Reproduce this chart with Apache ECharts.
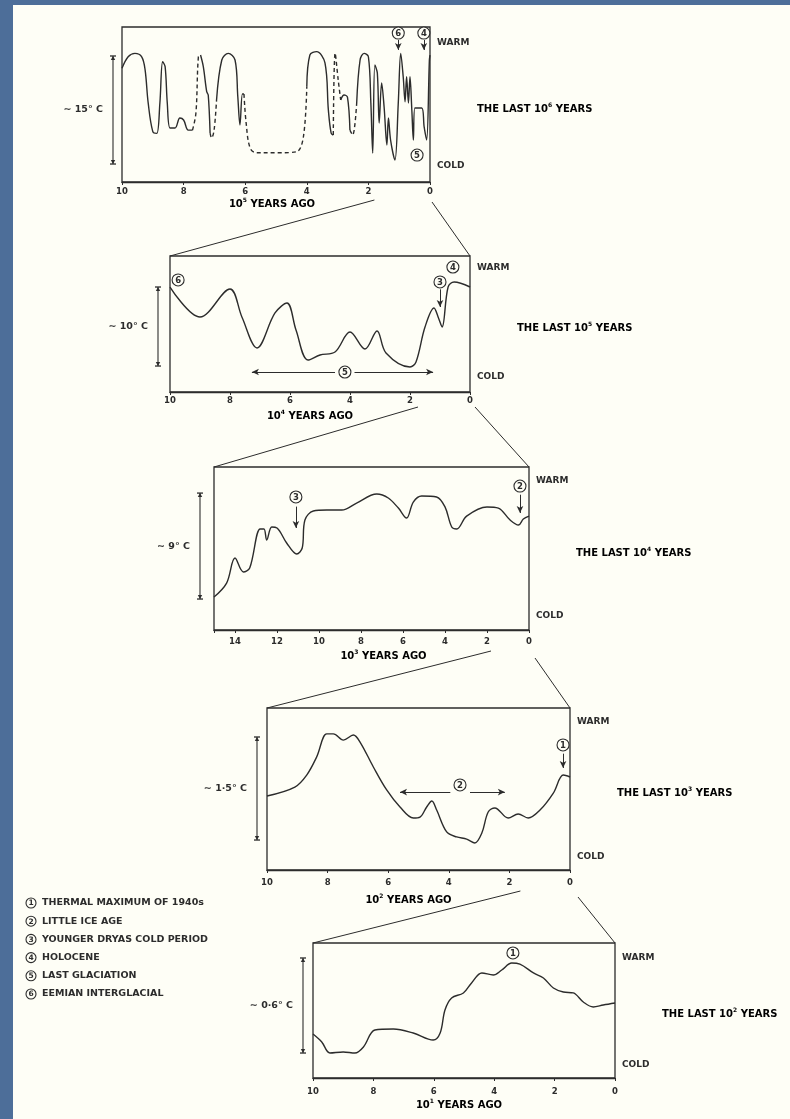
<!DOCTYPE html>
<html><head><meta charset="utf-8">
<script src="https://cdn.jsdelivr.net/npm/echarts/dist/echarts.min.js"></script>
<style>html,body{margin:0;padding:0;background:#4d6e99}#c{width:790px;height:1119px}</style>
</head><body><div id="c"></div>
<script>
// ---------------- DATA (x = time units ago, y = relative temperature index 0..100) ----------------
// Panel 1: last 10^6 years (x in 10^5 years). Solid and dashed segments.
const P1_SOLID_A = [[10,73.4],[9.8,80.8],[9.58,83.0],[9.36,80.8],[9.25,72.3],[9.15,51.0],[9.0,32.5],[8.87,31.4],[8.77,51.0],[8.68,77.6],[8.6,74.4],[8.53,51.0],[8.44,34.8],[8.28,34.8],[8.12,41.3],[8.0,40.0],[7.85,33.5],[7.71,33.5]];
const P1_DASH_B = [[7.71,33.5],[7.6,44.5],[7.52,80.8],[7.45,81.9]];
const P1_SOLID_C = [[7.45,81.9],[7.36,74.4],[7.25,58.3],[7.2,56.1],[7.14,31.6]];
const P1_DASH_D = [[7.14,31.6],[7.09,28.4],[7.01,33.5],[6.93,52.9]];
const P1_SOLID_E = [[6.93,52.9],[6.76,78.7],[6.55,83.0],[6.33,78.7],[6.24,55.0],[6.17,36.8],[6.09,56.8],[6.04,56.8]];
const P1_DASH_F = [[6.04,56.8],[5.97,38.1],[5.84,21.9],[5.63,18.9],[4.87,18.9],[4.33,19.5],[4.11,29.2],[4.0,61.5]];
const P1_SOLID_G = [[4.0,61.5],[3.9,81.9],[3.68,84.1],[3.41,76.8],[3.3,46.5],[3.21,31.6],[3.14,30.3]];
const P1_DASH_H = [[3.14,30.3],[3.08,83.2],[2.98,65.8],[2.9,52.9]];
const P1_SOLID_I = [[2.9,52.9],[2.79,56.1],[2.68,54.8],[2.6,33.5]];
const P1_DASH_J = [[2.6,33.5],[2.51,30.3],[2.38,51.0]];
const P1_SOLID_K = [[2.38,51.0],[2.27,78.7],[2.14,83.0],[2.0,80.8],[1.92,51.0],[1.86,18.7],[1.79,75.5],[1.71,70.3],[1.65,38.1],[1.57,63.9],[1.49,48.4],[1.4,23.9],[1.35,41.3],[1.28,27.1],[1.14,14.2],[1.03,51.0],[0.95,83.0],[0.87,67.9],[0.81,51.8],[0.76,67.9],[0.7,51.0],[0.65,67.9],[0.59,46.5],[0.54,27.1],[0.49,47.7],[0.27,47.7],[0.19,35.5],[0.11,27.1],[0.02,78.7],[0,81.9]];
// Panel 2: last 10^5 years (x in 10^4 years)
const P2_CURVE = [[10,77.2],[9.0,55.1],[8.0,75.7],[7.6,55.0],[7.1,32.4],[6.5,58.1],[6.1,65.4],[5.8,45.6],[5.4,23.5],[5.0,27.2],[4.5,29.4],[4.0,44.1],[3.5,31.6],[3.1,44.9],[2.8,28.7],[2.0,18.4],[1.8,22.1],[1.5,47.8],[1.2,61.8],[1.05,54.4],[0.93,47.8],[0.73,77.2],[0.53,80.9],[0,77.2]];
// Panel 3: last 10^4 years (x in 10^3 years)
const P3_CURVE = [[15,20.2],[14.4,28.8],[14.0,44.2],[13.6,35.6],[13.3,38.0],[12.8,62.0],[12.62,62.0],[12.49,55.2],[12.25,63.2],[12.0,62.6],[11.54,53.4],[11.06,46.6],[10.8,50.3],[10.67,67.5],[10.27,73.0],[9.63,73.6],[8.92,73.6],[8.21,77.9],[7.25,83.4],[6.7,81.0],[6.22,74.8],[5.83,68.7],[5.51,78.5],[5.11,82.2],[4.4,81.6],[4.0,75.5],[3.68,63.2],[3.44,62.0],[2.97,69.9],[2.0,75.5],[1.46,74.8],[0.9,67.5],[0.5,64.4],[0.27,68.1],[0,69.9]];
// Panel 4: last 10^3 years (x in 10^2 years)
const P4_CURVE = [[10,45.7],[9.08,51.2],[8.69,58.6],[8.36,69.8],[8.03,84.0],[7.81,84.0],[7.48,80.2],[7.15,83.3],[6.93,79.0],[6.49,63.6],[6.05,49.4],[5.61,38.9],[5.17,32.1],[4.95,32.7],[4.73,38.9],[4.56,42.6],[4.4,37.0],[4.07,23.5],[3.74,20.4],[3.41,19.1],[3.14,16.7],[2.91,22.8],[2.7,35.8],[2.48,38.3],[2.04,32.1],[1.71,34.6],[1.38,32.1],[0.99,37.0],[0.55,47.5],[0.22,58.6],[0,57.4]];
// Panel 5: last 10^2 years (x in 10^1 years)
const P5_CURVE = [[10,32.6],[9.71,26.7],[9.44,18.5],[9.0,19.3],[8.61,18.5],[8.33,23.0],[7.95,35.6],[7.34,36.3],[6.68,33.3],[6.02,28.1],[5.79,33.3],[5.63,50.4],[5.41,59.3],[5.02,63.0],[4.75,70.4],[4.41,77.8],[4.03,76.3],[3.75,80.0],[3.42,85.2],[3.15,84.4],[2.7,77.8],[2.37,74.1],[2.04,66.7],[1.71,63.7],[1.38,63.0],[1.05,56.3],[0.72,52.6],[0.39,54.1],[0,55.6]];

const X_MAX = [10, 10, 15, 10, 10];
const X_INTERVAL = 2;
const AXIS_EXP = ['5', '4', '3', '2', '1'];
const PERIOD_EXP = ['6', '5', '4', '3', '2'];
const TEMP_LABELS = ['\u223C 15\u00B0 C', '\u223C 10\u00B0 C', '\u223C 9\u00B0 C', '\u223C 1\u00B75\u00B0 C', '\u223C 0\u00B76\u00B0 C'];
const RANGE_BARS = [[81.3, 11.6], [77.2, 19.1], [84.0, 19.0], [82.1, 18.5], [88.9, 18.5]];
const LEGEND_NUMS = ['1', '2', '3', '4', '5', '6'];
const LEGEND_ITEMS = ['THERMAL MAXIMUM OF 1940s', 'LITTLE ICE AGE', 'YOUNGER DRYAS COLD PERIOD', 'HOLOCENE', 'LAST GLACIATION', 'EEMIAN INTERGLACIAL'];
// annotations: circled numbers [panel, x, y, number]
const CIRCLES = [[0,1.03,96.1,'6'],[0,0.2,96.1,'4'],[0,0.42,17.4,'5'],
  [1,9.73,82.4,'6'],[1,0.57,91.9,'4'],[1,1.0,80.9,'3'],[1,4.17,14.7,'5'],
  [2,11.1,81.6,'3'],[2,0.43,88.3,'2'],
  [3,0.23,77.2,'1'],[3,3.63,52.5,'2'],
  [4,3.38,92.6,'1']];
// arrows [panel, x1, y1, x2, y2] (arrowhead at second point)
const ARROWS = [[0,1.03,91.6,1.03,85.2],[0,0.2,91.6,0.2,85.2],
  [1,1.0,75.5,1.0,62.5],[1,4.5,14.7,7.27,14.7],[1,3.85,14.7,1.23,14.7],
  [2,11.1,75.7,11.1,62.6],[2,0.43,83.0,0.43,71.8],
  [3,0.23,71.8,0.23,63.0],[3,3.95,48.1,5.61,48.1],[3,3.3,48.1,2.15,48.1]];

const PANEL_SERIES = [
  [[P1_SOLID_A,false],[P1_DASH_B,true],[P1_SOLID_C,false],[P1_DASH_D,true],[P1_SOLID_E,false],[P1_DASH_F,true],[P1_SOLID_G,false],[P1_DASH_H,true],[P1_SOLID_I,false],[P1_DASH_J,true],[P1_SOLID_K,false]],
  [[P2_CURVE,false]], [[P3_CURVE,false]], [[P4_CURVE,false]], [[P5_CURVE,false]]
];

// ---------------- LAYOUT ----------------
const LAYOUT = [
  {left:122, top:27, width:308, height:155, tickMargin:5, titleGap:22, titleShift:-4, barGap:9, warm:16, cold:16, conn:[[6,18],[2,20]]},
  {left:170, top:256, width:300, height:136, tickMargin:4.5, titleGap:24, titleShift:-10, barGap:12, warm:12, cold:15, conn:[[8,15],[5,15]]},
  {left:214, top:467, width:315, height:163, tickMargin:7.5, titleGap:26, titleShift:12, barGap:14, warm:14, cold:14, conn:[[4,21],[6,28]]},
  {left:267, top:708, width:303, height:162, tickMargin:8, titleGap:30, titleShift:-10, barGap:10, warm:14, cold:13, conn:[[11,21],[8,27]]},
  {left:313, top:943, width:302, height:135, tickMargin:9, titleGap:27, titleShift:-5, barGap:10, warm:15, cold:13}
];
const FONT = '"DejaVu Sans", "Liberation Sans", sans-serif';
const INK = '#2c2c2c';
const PAPER = '#fefef6';

const chart = echarts.init(document.getElementById('c'), null, {renderer:'canvas', width:790, height:1119});

const grids = [], xAxes = [], yAxes = [], series = [];
LAYOUT.forEach((L, i) => {
  grids.push({left:L.left, top:L.top, width:L.width, height:L.height, show:true, borderColor:INK, borderWidth:1.3, backgroundColor:'transparent'});
  xAxes.push({type:'value', gridIndex:i, inverse:true, min:0, max:X_MAX[i], interval:X_INTERVAL,
    axisLine:{show:true, lineStyle:{color:INK, width:1.3}}, axisTick:{show:true, inside:false, length:3, lineStyle:{color:INK}},
    splitLine:{show:false},
    axisLabel:{margin:L.tickMargin, color:INK, fontFamily:FONT, fontWeight:'bold', fontSize:8.5,
      formatter: v => (v % X_INTERVAL === 0 ? String(v) : '')}});
  yAxes.push({type:'value', gridIndex:i, min:0, max:100, show:false});
  PANEL_SERIES[i].forEach((s, k) => {
    const ser = {type:'line', xAxisIndex:i, yAxisIndex:i, data:s[0], smooth:0.35, showSymbol:false, silent:true,
      lineStyle:{color:INK, width:1.4, type: s[1] ? [4,3] : 'solid'}, z:3};
    if (k === 0) {
      ser.markLine = {silent:true, animation:false, label:{show:false}, lineStyle:{color:INK, type:'solid', width:1},
        data: ARROWS.filter(a => a[0] === i).map(a => [
          {coord:[a[1], a[2]], symbol:'none'},
          {coord:[a[3], a[4]], symbol:'arrow', symbolSize:[5,7]}])};
    }
    series.push(ser);
  });
});

chart.setOption({animation:false, backgroundColor:'#4d6e99', grid:grids, xAxis:xAxes, yAxis:yAxes, series:series});

// ---------------- decorations (text, range bars, connectors) ----------------
const txt = (x, y, text, style) => ({type:'text', x:x, y:y, z:10, silent:true,
  style:Object.assign({text:text, fill:INK, font:'bold 9px ' + FONT, textAlign:'left', textVerticalAlign:'middle'}, style || {})});
const richStyle = {
  a:{fontSize:10, fontWeight:'bold', fontFamily:FONT, color:INK, lineHeight:14},
  s:{fontSize:6, fontWeight:'bold', fontFamily:FONT, color:INK, verticalAlign:'top'}
};
const circled = (x, y, num, r, fs) => ([
  {type:'circle', shape:{cx:x, cy:y, r:r}, style:{fill:PAPER, stroke:INK, lineWidth:1.1}, z:11, silent:true},
  {type:'text', x:x, y:y + 0.5, z:12, silent:true, style:{text:num, fill:INK, font:'bold ' + fs + 'px ' + FONT, textAlign:'center', textVerticalAlign:'middle'}}
]);
const g = [];
g.push({type:'rect', shape:{x:13, y:5, width:777, height:1114}, style:{fill:PAPER}, z:-10, silent:true});

LAYOUT.forEach((L, i) => {
  const right = L.left + L.width, bottom = L.top + L.height;
  g.push(txt(right + 7, L.top + L.warm, 'WARM'));
  g.push(txt(right + 7, bottom - L.cold, 'COLD'));
  g.push({type:'text', x:right + 47, y:L.top + L.height * 0.53, z:10, silent:true,
    style:{text:'{a|THE LAST 10}{s|' + PERIOD_EXP[i] + '}{a| YEARS}', rich:richStyle, textAlign:'left', textVerticalAlign:'middle'}});
  const c0 = chart.convertToPixel({gridIndex:i}, [X_MAX[i] / 2, 0]);
  g.push({type:'text', x:c0[0] + L.titleShift, y:bottom + L.titleGap, z:10, silent:true,
    style:{text:'{a|10}{s|' + AXIS_EXP[i] + '}{a| YEARS AGO}', rich:richStyle, textAlign:'center', textVerticalAlign:'middle'}});
  const bx = L.left - L.barGap;
  const yT = chart.convertToPixel({gridIndex:i}, [0, RANGE_BARS[i][0]])[1];
  const yB = chart.convertToPixel({gridIndex:i}, [0, RANGE_BARS[i][1]])[1];
  g.push({type:'line', shape:{x1:bx, y1:yT, x2:bx, y2:yB}, style:{stroke:INK, lineWidth:1.1}, z:10, silent:true});
  [yT, yB].forEach(yy => {
    g.push({type:'line', shape:{x1:bx - 3, y1:yy, x2:bx + 3, y2:yy}, style:{stroke:INK, lineWidth:1.3}, z:10, silent:true});
    const d = yy === yT ? 1 : -1;
    g.push({type:'polygon', shape:{points:[[bx, yy], [bx - 2.2, yy + d * 4], [bx + 2.2, yy + d * 4]]}, style:{fill:INK}, z:10, silent:true});
  });
  g.push(txt(bx - 10, (yT + yB) / 2, TEMP_LABELS[i], {textAlign:'right', font:'bold 9.5px ' + FONT}));
  if (i < LAYOUT.length - 1) {
    const N = LAYOUT[i + 1];
    const p2 = chart.convertToPixel({gridIndex:i}, [2, 0]);
    const p0 = chart.convertToPixel({gridIndex:i}, [0, 0]);
    g.push({type:'line', shape:{x1:p2[0] + L.conn[0][0], y1:bottom + L.conn[0][1], x2:N.left, y2:N.top}, style:{stroke:INK, lineWidth:1}, z:10, silent:true});
    g.push({type:'line', shape:{x1:p0[0] + L.conn[1][0], y1:bottom + L.conn[1][1], x2:N.left + N.width, y2:N.top}, style:{stroke:INK, lineWidth:1}, z:10, silent:true});
  }
});
CIRCLES.forEach(c => {
  const p = chart.convertToPixel({gridIndex:c[0]}, [c[1], c[2]]);
  g.push(...circled(p[0], p[1], c[3], 6, 8.5));
});
LEGEND_ITEMS.forEach((t, k) => {
  const y = 903 + k * 18.2;
  g.push(...circled(31, y, LEGEND_NUMS[k], 5, 7.5));
  g.push(txt(42, y, t, {font:'bold 9.5px ' + FONT}));
});
chart.setOption({graphic:{elements:g}});
</script></body></html>
